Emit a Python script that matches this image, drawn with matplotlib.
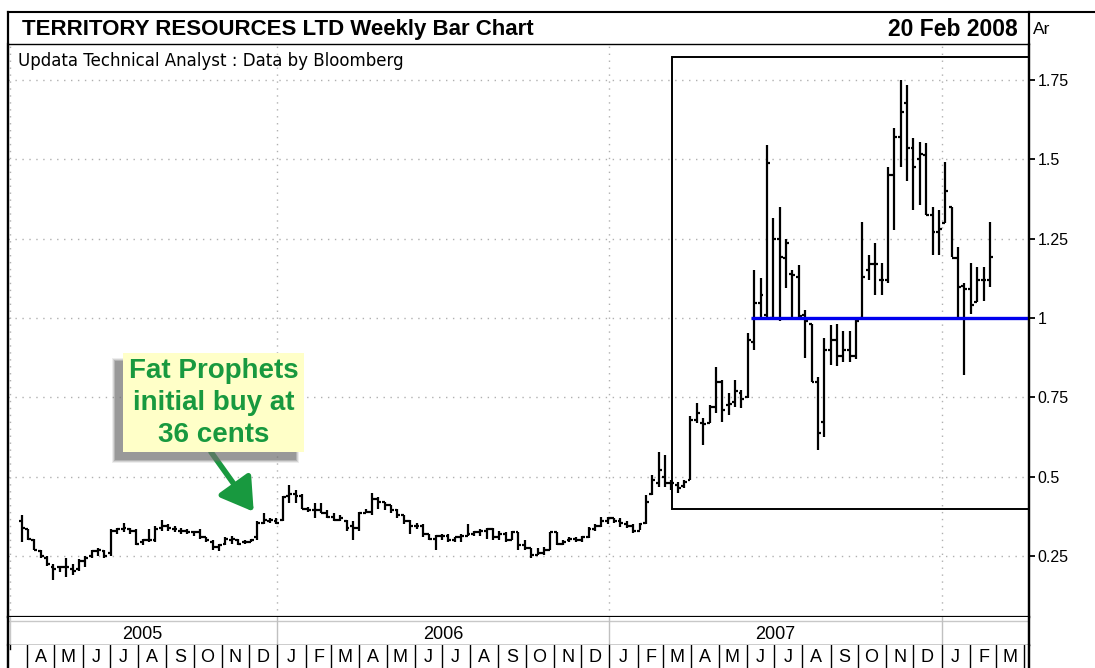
import matplotlib
matplotlib.use("Agg")
import matplotlib.pyplot as plt
import matplotlib.dates as mdates
from matplotlib.lines import Line2D
from matplotlib.patches import Rectangle
from matplotlib.transforms import Affine2D
import pandas as pd

W, H = 1095, 668

# ---------------- data ----------------
start_date = "2005-03-26"
opens = [.36, .335, .30, .265, .245, .215, .215, .215, .21, .21,
         .235, .25, .265, .265, .26, .33, .335, .335, .33, .295,
         .30, .30, .34, .345, .335, .33, .33, .325, .325, .31,
         .295, .28, .29, .30, .30, .295, .295, .31, .355, .36,
         .36, .365, .44, .445, .44, .40, .395, .395, .385, .375,
         .365, .36, .345, .34, .385, .39, .43, .42, .41, .395,
         .38, .36, .345, .345, .32, .305, .315, .315, .30, .31,
         .315, .32, .325, .33, .335, .31, .32, .30, .325, .285,
         .275, .255, .26, .27, .325, .29, .30, .305, .30, .31,
         .335, .345, .36, .37, .36, .35, .345, .33, .355, .445,
         .48, .50, .48, .475, .47, .49, .68, .67, .67, .72,
         .80, .725, .735, .765, .75, .925, 1.046, 1.01, 1.0, 1.25,
         1.19, 1.14, 1.13, 1.01, .98, .80, .674, .90, .93, .88,
         .90, .88, 1.0, 1.15, 1.17, 1.12, 1.12, 1.45, 1.57, 1.676,
         1.534, 1.50, 1.513, 1.324, 1.27, 1.30, 1.35, 1.19, 1.10, 1.09,
         1.05, 1.12, 1.12]
highs = [.38, .335, .305, .27, .25, .225, .22, .245, .225, .24,
         .25, .27, .275, .27, .335, .34, .355, .34, .335, .305,
         .335, .345, .365, .35, .345, .34, .335, .33, .335, .31,
         .30, .29, .31, .315, .305, .30, .305, .36, .385, .37,
         .37, .44, .474, .458, .445, .405, .416, .416, .395, .385,
         .38, .364, .36, .39, .40, .448, .437, .42, .41, .40,
         .38, .364, .355, .35, .32, .317, .32, .32, .31, .32,
         .35, .33, .335, .34, .34, .33, .325, .33, .325, .30,
         .275, .275, .28, .327, .327, .30, .31, .31, .315, .343,
         .35, .374, .374, .37, .37, .36, .35, .354, .443, .505,
         .578, .568, .49, .485, .49, .69, .731, .684, .726, .847,
         .805, .763, .805, .773, .952, 1.151, 1.125, 1.545, 1.314, 1.35,
         1.25, 1.151, 1.167, 1.025, .98, .815, .936, .978, .98, .96,
         .96, .993, 1.303, 1.198, 1.235, 1.172, 1.476, 1.597, 1.75, 1.733,
         1.566, 1.555, 1.55, 1.35, 1.34, 1.492, 1.35, 1.224, 1.11, 1.172,
         1.16, 1.16, 1.303]
lows = [.295, .30, .27, .245, .22, .175, .20, .185, .19, .205,
        .215, .245, .25, .245, .25, .32, .325, .32, .285, .285,
        .295, .295, .33, .33, .325, .32, .32, .315, .305, .295,
        .27, .265, .285, .29, .285, .29, .295, .30, .35, .355,
        .35, .36, .417, .417, .40, .39, .37, .385, .37, .36,
        .36, .33, .30, .33, .385, .38, .40, .395, .385, .37,
        .35, .32, .335, .31, .30, .27, .30, .295, .295, .295,
        .315, .315, .315, .305, .30, .30, .295, .30, .27, .27,
        .243, .255, .255, .27, .285, .285, .295, .295, .295, .306,
        .33, .343, .35, .354, .343, .338, .322, .333, .35, .443,
        .469, .469, .46, .448, .465, .49, .668, .60, .668, .70,
        .674, .695, .72, .716, .747, .90, 1.004, 1.0, 1.0, .99,
        1.093, 1.004, 1.0, .873, .80, .585, .626, .852, .85, .86,
        .86, .87, 1.0, 1.12, 1.072, 1.072, 1.109, 1.277, 1.476, 1.43,
        1.34, 1.356, 1.324, 1.198, 1.198, 1.298, 1.193, 1.0, .82, 1.014,
        1.05, 1.052, 1.099]
closes = [.34, .305, .27, .25, .225, .21, .215, .215, .205, .235,
          .245, .265, .27, .25, .33, .335, .34, .33, .29, .30,
          .30, .335, .345, .34, .335, .33, .325, .325, .31, .30,
          .28, .285, .305, .305, .29, .295, .30, .355, .365, .365,
          .355, .435, .445, .44, .40, .395, .395, .385, .375, .365,
          .37, .34, .34, .385, .39, .43, .42, .41, .395, .38,
          .36, .345, .345, .32, .305, .315, .315, .30, .31, .315,
          .32, .325, .33, .335, .31, .32, .30, .325, .285, .275,
          .255, .26, .27, .325, .29, .295, .305, .30, .31, .335,
          .345, .36, .37, .36, .355, .345, .33, .35, .42, .49,
          .52, .48, .48, .465, .485, .68, .70, .665, .72, .80,
          .71, .73, .77, .745, .93, 1.046, 1.072, 1.487, 1.25, 1.193,
          1.237, 1.135, 1.005, .99, .80, .637, .90, .93, .88, .90,
          .88, .99, 1.13, 1.17, 1.17, 1.12, 1.45, 1.57, 1.65, 1.534,
          1.476, 1.515, 1.324, 1.27, 1.28, 1.40, 1.19, 1.099, 1.09, 1.04,
          1.12, 1.12, 1.193]
dates = pd.date_range(start_date, periods=len(closes), freq="7D")

y_ticks = [0.25, 0.5, 0.75, 1.0, 1.25, 1.5, 1.75]
y_tick_labels = ["0.25", "0.5", "0.75", "1", "1.25", "1.5", "1.75"]
month_letters = ["J", "F", "M", "A", "M", "J", "J", "A", "S", "O", "N", "D"]
year_labels = ["2005", "2006", "2007"]
x_start, x_end = pd.Timestamp("2005-03-11"), pd.Timestamp("2008-04-06")
y_min, y_max = 0.0586, 1.8627
support_level = 1.0
support_start = pd.Timestamp("2007-06-06")
box_start, box_low, box_high = pd.Timestamp("2007-03-11"), 0.40, 1.822
buy_index = 37

title = "TERRITORY RESOURCES LTD Weekly Bar Chart"
date_text = "20 Feb 2008"
subtitle = "Updata Technical Analyst : Data by Bloomberg"
callout = "Fat Prophets\ninitial buy at\n36 cents"

GREEN = "#18993F"
FONT = "Liberation Sans"

# ---------------- figure ----------------
fig = plt.figure(figsize=(W / 100, H / 100), dpi=100)
fig.patch.set_facecolor("white")
PX = Affine2D().scale(1.0 / W, -1.0 / H).translate(0, 1) + fig.transFigure


def fig_rect(x0, y0, x1, y1):
    return [x0 / W, 1 - y1 / H, (x1 - x0) / W, (y1 - y0) / H]


def pline(xs, ys, **kw):
    fig.add_artist(Line2D(xs, ys, transform=PX, **kw))


L, R, TOP, BOT = 8, 1029, 44, 617
ax = fig.add_axes(fig_rect(L, TOP, R, BOT))
ax.set_xlim(x_start, x_end)
ax.set_ylim(y_min, y_max)

# grid
for yv in y_ticks:
    ax.axhline(yv, color="#b0b0b0", lw=1.0, ls=(0, (1, 4)), zorder=0)
for yr in [2006, 2007, 2008]:
    ax.axvline(pd.Timestamp(f"{yr}-01-01"), color="#b0b0b0", lw=1.0,
               ls=(0, (1, 4)), zorder=0)
ax.axvline(pd.Timestamp("2005-03-13"), color="#b0b0b0", lw=1.0,
           ls=(0, (1, 4)), zorder=0)

# bars
tick = pd.Timedelta(days=3.2)
ax.vlines(dates, lows, highs, color="black", lw=1.6, zorder=3)
ax.hlines(opens, dates - tick, dates, color="black", lw=1.6, zorder=3)
ax.hlines(closes, dates, dates + tick, color="black", lw=1.6, zorder=3)

# box and support line
ax.add_patch(Rectangle((mdates.date2num(box_start), box_low),
                       mdates.date2num(x_end) - mdates.date2num(box_start),
                       box_high - box_low, fill=False, ec="black", lw=1.4,
                       zorder=2))
ax.hlines(support_level, support_start, x_end, color="#0000EE", lw=2.4,
          zorder=4)

# axes styling
ax.yaxis.tick_right()
ax.set_yticks(y_ticks)
ax.set_yticklabels(y_tick_labels, fontfamily=FONT, fontsize=11.5)
ax.tick_params(axis="y", direction="out", length=4, width=1.3, pad=2,
               colors="black")
ax.set_xticks([])
for s in ["left", "right", "bottom"]:
    ax.spines[s].set_linewidth(1.6)
ax.spines["top"].set_linewidth(1.0)

# year row
axy = fig.add_axes(fig_rect(L, BOT, R, 645))
axy.set_xlim(x_start, x_end)
axy.set_ylim(0, 1)
axy.set_xticks([]); axy.set_yticks([])
for s in ["left", "right"]:
    axy.spines[s].set_linewidth(1.6)
axy.spines["top"].set_visible(False)
axy.spines["bottom"].set_linewidth(1.0)
axy.axhline(0.86, color="#c8c8c8", lw=1.0)
bounds = [x_start] + [pd.Timestamp(f"{y}-01-01") for y in (2006, 2007, 2008)]
for b in bounds[1:]:
    axy.axvline(b, color="#c0c0c0", lw=1.0)
axy.axvline(pd.Timestamp("2005-03-13"), color="#c8c8c8", lw=1.0)
for i, lab in enumerate(year_labels):
    mid = bounds[i] + (bounds[i + 1] - bounds[i]) / 2
    axy.text(mid, 0.38, lab, ha="center", va="center", fontsize=13,
             fontfamily=FONT)

# month row
axm = fig.add_axes(fig_rect(L, 645, R, H + 2))
axm.set_xlim(x_start, x_end)
axm.set_ylim(0, 1)
axm.set_xticks([]); axm.set_yticks([])
for s in ["left", "right"]:
    axm.spines[s].set_linewidth(1.6)
axm.spines["top"].set_visible(False)
axm.spines["bottom"].set_visible(False)
months = pd.date_range("2005-04-01", "2008-04-01", freq="MS")
for m in months:
    if x_start < m < x_end:
        axm.axvline(m, color="black", lw=1.0)
for m in months[:-1]:
    mid = m + pd.Timedelta(days=15)
    axm.text(mid, 0.86, month_letters[m.month - 1], ha="center", va="top",
             fontsize=13, fontfamily=FONT)
axm.plot([mdates.date2num(pd.Timestamp("2005-03-13"))] * 2, [0.85, 1.0],
         color="black", lw=1.0)

# frame / title bar
pline([L, W], [12, 12], color="black", lw=1.5)
pline([L, L], [12, H], color="black", lw=1.6)
pline([R, R], [12, H], color="black", lw=1.6)
fig.text(22 / W, 1 - 29 / H, title, fontsize=16, fontweight="bold",
         fontfamily=FONT, va="center", ha="left")
fig.text(1018 / W, 1 - 29 / H, date_text, fontsize=16.5, fontweight="bold",
         fontfamily=FONT, va="center", ha="right")
fig.text(1033 / W, 1 - 30 / H, "Ar", fontsize=12.5, fontfamily=FONT,
         va="center", ha="left")
fig.text(18 / W, 1 - 61 / H, subtitle, fontsize=12, fontfamily="DejaVu Sans",
         va="center", ha="left")

# callout with shadow
bx0, by0, bx1, by1 = 123, 353, 304, 452
for k, a in [(3, 0.12), (2, 0.2), (1, 0.3), (0, 0.4)]:
    fig.add_artist(Rectangle((bx0 - 8 - k, by0 + 8 - k), bx1 - bx0 + 2 * k,
                             by1 - by0 + 2 * k, transform=PX,
                             fc="#707070", ec="none", alpha=a, zorder=5))
fig.add_artist(Rectangle((bx0, by0), bx1 - bx0, by1 - by0, transform=PX,
                         fc="#FFFFC8", ec="none", zorder=6))
fig.text((bx0 + bx1) / 2 / W, 1 - 403 / H, callout, ha="center", va="center",
         fontsize=20, fontweight="bold", fontfamily=FONT, color=GREEN,
         linespacing=1.32, zorder=7)
ax.annotate("", xy=(dates[buy_index] - pd.Timedelta(days=4),
                    highs[buy_index] + 0.03),
            xytext=(211 / W, 1 - by1 / H), textcoords="figure fraction",
            arrowprops=dict(arrowstyle="-|>,head_length=1.3,head_width=0.8",
                            mutation_scale=15, lw=4, color=GREEN,
                            shrinkA=0, shrinkB=0), zorder=7)

fig.savefig("out.png", dpi=100)
